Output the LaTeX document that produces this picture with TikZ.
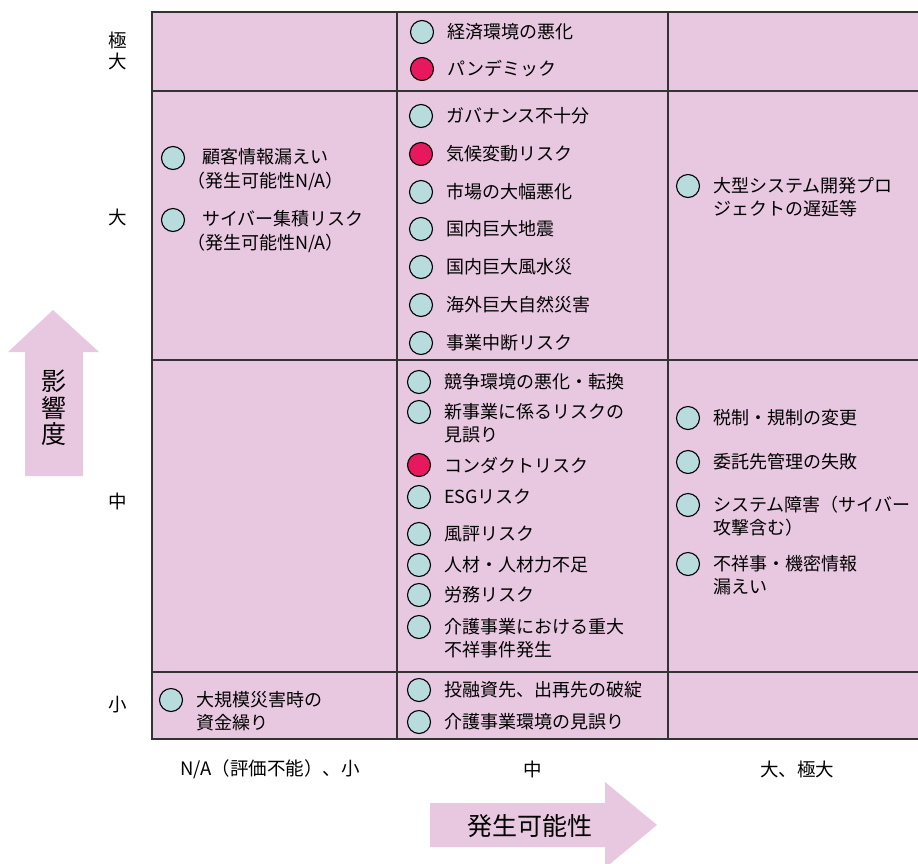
\documentclass[tikz,border=0pt]{standalone}
\usepackage{fontspec}
\setmainfont{Noto Sans CJK JP}
\definecolor{cellpink}{HTML}{E8C8E0}
\definecolor{dotteal}{HTML}{B8DCDE}
\definecolor{dotred}{HTML}{E8185F}
\definecolor{gridline}{HTML}{333333}
\newcommand{\riskone}[5]{\node[#4] (d#1) at (#2,#3) {}; \node[riskText] (t#1) at ([xshift=13pt]d#1.east) {#5};}
\newcommand{\risktwo}[5]{\node[#4] (d#1) at (#2,#3) {}; \node[riskText] (t#1) at ([xshift=13pt,yshift=-11pt]d#1.east) {#5};}
\begin{document}
\begin{tikzpicture}[x=1pt,y=-1pt,
  dot/.style={circle,draw=black,line width=1.1pt,fill=dotteal,minimum size=23pt,inner sep=0pt},
  reddot/.style={dot,fill=dotred},
  riskText/.style={anchor=west,inner sep=0pt,align=left,font=\fontsize{18}{22.5}\selectfont},
  axislabel/.style={inner sep=0pt,align=center,font=\fontsize{18.5}{21.5}\selectfont},
  arrowlabel/.style={inner sep=0pt,align=center,font=\fontsize{25}{26.5}\selectfont},
  gridrule/.style={draw=gridline,line width=1.6pt}]
\useasboundingbox (0,0) rectangle (918,863);
\clip (0,0) rectangle (918,863);

% grid
\fill[cellpink] (152,12) rectangle (930,739);
\draw[gridrule] (930,12) -- (152,12) -- (152,739) -- (930,739);
\draw[gridrule] (397,12) -- (397,739);
\draw[gridrule] (668,12) -- (668,739);
\draw[gridrule] (152,91) -- (930,91);
\draw[gridrule] (152,360) -- (930,360);
\draw[gridrule] (152,672) -- (930,672);

% axis arrows
\fill[cellpink] (25,476) -- (25,352) -- (8,352) -- (53,310) -- (99,352) -- (83,352) -- (83,476) -- cycle;
\node[arrowlabel] (impact) at (54,408) {影\\響\\度};
\fill[cellpink] (430,803) -- (605,803) -- (605,782) -- (657,825) -- (605,868) -- (605,847) -- (430,847) -- cycle;
\node[arrowlabel] (likelihood) at (530,826) {発生可能性};

% row labels
\node[axislabel] (rowXL) at (118,51) {極\\大};
\node[axislabel] (rowL) at (118,217) {大};
\node[axislabel] (rowM) at (118,501) {中};
\node[axislabel] (rowS) at (118,705) {小};

% column labels
\node[axislabel] (colS) at (270,769) {N/A（評価不能）、小};
\node[axislabel] (colM) at (533,769) {中};
\node[axislabel] (colL) at (797,769) {大、極大};

% middle column
\riskone{m1}{422}{32}{dot}{経済環境の悪化}
\riskone{m2}{422}{69}{reddot}{パンデミック}
\riskone{m3}{421}{116}{dot}{ガバナンス不十分}
\riskone{m4}{421}{154}{reddot}{気候変動リスク}
\riskone{m5}{421}{192}{dot}{市場の大幅悪化}
\riskone{m6}{421}{229}{dot}{国内巨大地震}
\riskone{m7}{421}{267}{dot}{国内巨大風水災}
\riskone{m8}{421}{305}{dot}{海外巨大自然災害}
\riskone{m9}{421}{343}{dot}{事業中断リスク}
\riskone{m10}{419}{382}{dot}{競争環境の悪化・転換}
\risktwo{m11}{419}{412}{dot}{新事業に係るリスクの\\見誤り}
\riskone{m12}{419}{465}{reddot}{コンダクトリスク}
\riskone{m13}{419}{497}{dot}{ESGリスク}
\riskone{m14}{419}{534}{dot}{風評リスク}
\riskone{m15}{419}{565}{dot}{人材・人材力不足}
\riskone{m16}{419}{595}{dot}{労務リスク}
\risktwo{m17}{419}{627}{dot}{介護事業における重大\\不祥事件発生}
\riskone{m18}{419}{690}{dot}{投融資先、出再先の破綻}
\riskone{m19}{419}{722}{dot}{介護事業環境の見誤り}

% left column
\node[dot] (dl1) at (173,158) {};
\node[riskText,font=\fontsize{18}{24}\selectfont] (tl1) at ([xshift=2pt,yshift=-12pt]dl1.east) {\hspace*{15pt}顧客情報漏えい\\（発生可能性N/A）};
\node[dot] (dl2) at (173,220) {};
\node[riskText,font=\fontsize{18}{24}\selectfont] (tl2) at ([xshift=2pt,yshift=-12pt]dl2.east) {\hspace*{15pt}サイバー集積リスク\\（発生可能性N/A）};
\risktwo{l3}{171}{700}{dot}{大規模災害時の\\資金繰り}

% right column
\risktwo{r1}{688}{186}{dot}{大型システム開発プロ\\ジェクトの遅延等}
\riskone{r2}{688}{418}{dot}{税制・規制の変更}
\riskone{r3}{688}{462}{dot}{委託先管理の失敗}
\risktwo{r4}{688}{505}{dot}{システム障害（サイバー\\攻撃含む）}
\risktwo{r5}{688}{564}{dot}{不祥事・機密情報\\漏えい}
\end{tikzpicture}
\end{document}
